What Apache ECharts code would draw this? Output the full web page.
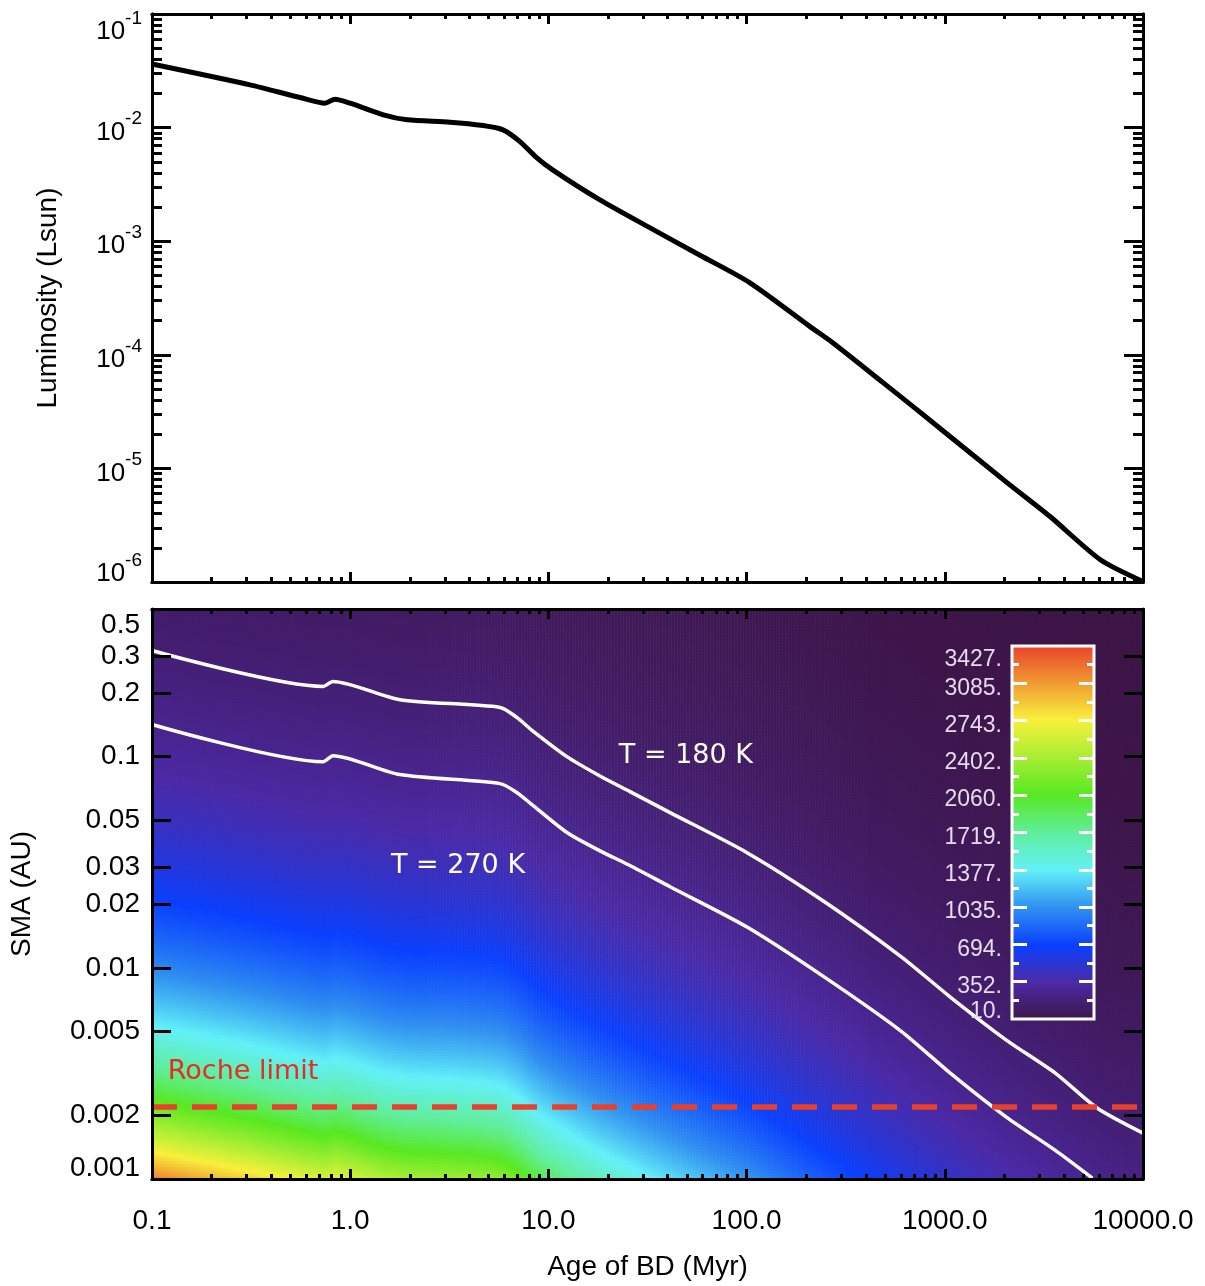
<!DOCTYPE html>
<html>
<head>
<meta charset="utf-8">
<script src="https://cdn.jsdelivr.net/npm/echarts@6/dist/echarts.min.js"></script>
<style>
html, body { margin: 0; padding: 0; background: #fff; }
#chart { width: 1205px; height: 1286px; }
</style>
</head>
<body>
<div id="chart"></div>
<script>
// luminosity track (Myr, Lsun)
const ageMyr = [0.1, 0.312, 0.558, 0.746, 0.838, 1.0, 1.47, 1.94, 3.19, 4.68, 5.9, 7.19, 8.6, 10.5, 18.2, 32.6, 58.2, 104, 209, 273, 488, 692, 1062, 2060, 3396, 6070, 10000]
const lumLsun = [0.0363, 0.0238, 0.0184, 0.0164, 0.0178, 0.0164, 0.01294, 0.0117, 0.01117, 0.01042, 0.00955, 0.00753, 0.00556, 0.00425, 0.00231, 0.00131, 7.52e-4, 4.3e-4, 1.77e-4, 1.27e-4, 5.69e-5, 3.5e-5, 1.91e-5, 7.5e-6, 3.77e-6, 1.58e-6, 1.01e-6]

// white contours (Myr, AU)
const age180 = [0.1, 0.73, 0.819, 1.78, 5.7, 6.95, 8.2, 12.4, 18.2, 25.8, 41.1, 100.5, 246, 601, 1062, 2036, 3597, 5861, 10000]
const sma180 = [0.318, 0.215, 0.227, 0.186, 0.171, 0.153, 0.134, 0.100, 0.0810, 0.0683, 0.0543, 0.0351, 0.0206, 0.0113, 0.00729, 0.00456, 0.00318, 0.00217, 0.00165]
const age270 = [0.1, 0.73, 0.819, 1.78, 5.7, 6.95, 8.2, 12.4, 18.2, 25.8, 41.1, 100.5, 246, 601, 1062, 2036, 3597, 5550]
const sma270 = [0.142, 0.0946, 0.101, 0.0822, 0.0745, 0.0675, 0.0596, 0.0437, 0.0358, 0.0305, 0.0242, 0.0156, 0.00906, 0.00502, 0.00318, 0.00197, 0.00137, 0.00101]

const rocheSma = 0.0022

// text notes inside the bottom panel
const noteText = ['T = 180 K', 'T = 270 K', 'Roche limit']
const noteAge = [49.4, 3.5, 0.288]
const noteSma = [0.101, 0.0304, 0.00321]
const noteColor = ['#ffffff', '#ffffff', '#ee2a1e']

// axis ticks
const ageLabels = ['0.1', '1.0', '10.0', '100.0', '1000.0', '10000.0']
const lumExp = [-1, -2, -3, -4, -5, -6]
const smaTicks = [0.001, 0.002, 0.005, 0.01, 0.02, 0.03, 0.05, 0.1, 0.2, 0.3, 0.5]
const smaLabels = ['0.001', '0.002', '0.005', '0.01', '0.02', '0.03', '0.05', '0.1', '0.2', '0.3', '0.5']

// colour bar (K)
const cbTicks = [10, 352, 694, 1035, 1377, 1719, 2060, 2402, 2743, 3085, 3427]
const cbLabels = ['10.', '352.', '694.', '1035.', '1377.', '1719.', '2060.', '2402.', '2743.', '3085.', '3427.']
const tempColors = ['#3d1546', '#4c2aa6', '#0a40ff', '#3090f0', '#62f0f8', '#60ee9c', '#58e822', '#a8ee34', '#f8f03c', '#f09830', '#e8402c']

// T = K * L^0.25 / sqrt(a), K fixed so the field meets the 180 K contour
const tempConst = 231

const LG = Math.log10
const font = 'Liberation Sans'
const smaMinLog = LG(smaTicks[0])
const smaMaxLog = LG(smaTicks[smaTicks.length - 1])

const ageMajor = [0, 1, 2, 3]
const ageMinor = []
for (let d = -1; d < 4; d++) for (let k = 2; k < 10; k++) ageMinor.push(d + LG(k))
const lumMajor = [-5, -4, -3, -2]
const lumMinor = []
for (let d = -6; d < -1; d++) for (let k = 2; k < 10; k++) lumMinor.push(d + LG(k))
const smaMajor = smaTicks.slice(1, -1).map(LG)
const cbMajor = cbTicks.slice(1, -1)
const cbMinor = cbTicks.slice(1).map((v, i) => (v + cbTicks[i]) / 2)

function lumAt(logAge) {
  const la = ageMyr.map(LG)
  const ll = lumLsun.map(LG)
  for (let i = 1; i < la.length; i++) {
    if (logAge <= la[i]) {
      const f = (logAge - la[i - 1]) / (la[i] - la[i - 1])
      return ll[i - 1] + f * (ll[i] - ll[i - 1])
    }
  }
  return ll[ll.length - 1]
}

// heatmap cells
const nCol = 330, nRow = 190
const colIdx = [], rowIdx = [], heatData = []
for (let i = 0; i < nCol; i++) colIdx.push(i)
for (let j = 0; j < nRow; j++) rowIdx.push(j)
for (let i = 0; i < nCol; i++) {
  const logAge = -1 + (i + 0.5) * 5 / nCol
  const logL = lumAt(logAge)
  for (let j = 0; j < nRow; j++) {
    const logA = smaMinLog + (j + 0.5) * (smaMaxLog - smaMinLog) / nRow
    heatData.push([i, j, tempConst * Math.pow(10, logL / 4 - logA / 2)])
  }
}

function edgeAxis(grid, pos, min, max, ticks, len, color, extra) {
  return Object.assign({
    gridIndex: grid, type: 'value', position: pos, min: min, max: max, z: 10,
    axisLine: { show: true, onZero: false, lineStyle: { color: '#000', width: 3 } },
    axisTick: { show: true, inside: true, length: len, customValues: ticks, lineStyle: { color: color, width: 3 } },
    axisLabel: { show: false },
    splitLine: { show: false }
  }, extra || {})
}

const nameStyle = { fontSize: 28, fontFamily: font, color: '#000' }
const nearest = (v, arr) => {
  let best = 0
  arr.forEach((a, i) => { if (Math.abs(a - v) < Math.abs(arr[best] - v)) best = i })
  return best
}

const xAxes = [
  edgeAxis(0, 'bottom', -1, 4, ageMajor, 10, '#000'),
  edgeAxis(0, 'bottom', -1, 4, ageMinor, 5, '#000'),
  edgeAxis(0, 'top', -1, 4, ageMajor, 10, '#000'),
  edgeAxis(0, 'top', -1, 4, ageMinor, 5, '#000'),
  edgeAxis(1, 'bottom', -1, 4, ageMajor, 10, '#000', {
    axisLabel: {
      show: true, customValues: [-1, 0, 1, 2, 3, 4], margin: 28,
      fontSize: 28, fontFamily: font, color: '#000',
      formatter: v => ageLabels[Math.round(v) + 1]
    },
    name: 'Age of BD (Myr)', nameLocation: 'middle', nameGap: 74, nameTextStyle: nameStyle
  }),
  edgeAxis(1, 'bottom', -1, 4, ageMinor, 5, '#000'),
  edgeAxis(1, 'top', -1, 4, ageMajor, 10, '#000'),
  edgeAxis(1, 'top', -1, 4, ageMinor, 5, '#000'),
  { gridIndex: 2, type: 'category', data: colIdx, show: false },
  { gridIndex: 3, type: 'value', min: 0, max: 1, show: false }
]

const lumLabelPos = lumExp.map((e, i) => i === 0 ? e - 0.114 : i === lumExp.length - 1 ? e + 0.114 : e)
const smaLabelPos = smaTicks.map((s, i) => i === 0 ? -2.948 : i === smaTicks.length - 1 ? -0.379 : LG(s))
const smaLogs = smaTicks.map(LG)
const cbLabelPos = cbTicks.map((t, i) => i === 0 ? t + 64 : i === cbTicks.length - 1 ? t - 128 : t - 45)

const yAxes = [
  edgeAxis(0, 'left', -6, -1, lumMajor, 19, '#000', {
    axisLabel: {
      show: true, customValues: lumLabelPos, margin: 10,
      formatter: v => '{b|10}{s|' + Math.round(v) + '}',
      rich: {
        b: { fontSize: 26, fontFamily: font, color: '#000', padding: [10, 0, 0, 0], verticalAlign: 'bottom' },
        s: { fontSize: 19, fontFamily: font, color: '#000', verticalAlign: 'top' }
      }
    },
    name: 'Luminosity (Lsun)', nameLocation: 'middle', nameGap: 90, nameTextStyle: nameStyle
  }),
  edgeAxis(0, 'left', -6, -1, lumMinor, 10, '#000'),
  edgeAxis(0, 'right', -6, -1, lumMajor, 19, '#000'),
  edgeAxis(0, 'right', -6, -1, lumMinor, 10, '#000'),
  edgeAxis(1, 'left', smaMinLog, smaMaxLog, smaMajor, 19, '#000', {
    axisLabel: {
      show: true, customValues: smaLabelPos, margin: 12,
      fontSize: 28, fontFamily: font, color: '#000',
      formatter: v => smaLabels[nearest(v, smaLogs)]
    },
    name: 'SMA (AU)', nameLocation: 'middle', nameGap: 116, nameTextStyle: nameStyle
  }),
  edgeAxis(1, 'right', smaMinLog, smaMaxLog, smaMajor, 19, '#000'),
  { gridIndex: 2, type: 'category', data: rowIdx, show: false },
  edgeAxis(3, 'left', cbTicks[0], cbTicks[cbTicks.length - 1], cbMajor, 15, '#fff', {
    axisLine: { show: false },
    axisLabel: {
      show: true, customValues: cbLabelPos, margin: 10,
      fontSize: 23, fontFamily: font, color: '#e4dce8',
      formatter: v => cbLabels[nearest(v, cbTicks)]
    }
  }),
  edgeAxis(3, 'left', cbTicks[0], cbTicks[cbTicks.length - 1], cbMinor, 7, '#fff', { axisLine: { show: false } }),
  edgeAxis(3, 'right', cbTicks[0], cbTicks[cbTicks.length - 1], cbMajor, 15, '#fff', { axisLine: { show: false } }),
  edgeAxis(3, 'right', cbTicks[0], cbTicks[cbTicks.length - 1], cbMinor, 7, '#fff', { axisLine: { show: false } })
]

const chart = echarts.init(document.getElementById('chart'))
chart.setOption({
  animation: false,
  backgroundColor: '#fff',
  grid: [
    { left: 152, top: 14, width: 991, height: 568 },
    { left: 152, top: 609, width: 991, height: 570 },
    { left: 152, top: 609, width: 991, height: 570 },
    {
      left: 1012, top: 646, width: 82, height: 373, show: true, z: 6,
      borderColor: '#fff', borderWidth: 3,
      backgroundColor: {
        type: 'linear', x: 0, y: 1, x2: 0, y2: 0,
        colorStops: tempColors.map((c, i) => ({ offset: i / (tempColors.length - 1), color: c }))
      }
    }
  ],
  xAxis: xAxes,
  yAxis: yAxes,
  visualMap: {
    type: 'continuous', show: false, seriesIndex: 1, dimension: 2,
    min: cbTicks[0], max: cbTicks[cbTicks.length - 1],
    inRange: { color: tempColors }
  },
  series: [
    {
      type: 'line', xAxisIndex: 0, yAxisIndex: 0, symbol: 'none', smooth: 0.25,
      lineStyle: { color: '#000', width: 5 },
      data: ageMyr.map((t, i) => [LG(t), LG(lumLsun[i])])
    },
    {
      type: 'heatmap', xAxisIndex: 8, yAxisIndex: 6, silent: true, progressive: 0,
      emphasis: { disabled: true },
      data: heatData
    },
    {
      type: 'line', xAxisIndex: 4, yAxisIndex: 4, symbol: 'none', smooth: 0.25, z: 4,
      lineStyle: { color: '#fff', width: 3.5 },
      data: age180.map((t, i) => [LG(t), LG(sma180[i])]),
      markLine: {
        silent: true, symbol: 'none', label: { show: false },
        lineStyle: { color: '#e8402c', width: 5.5, type: [25, 15] },
        data: [{ yAxis: LG(rocheSma) }]
      }
    },
    {
      type: 'line', xAxisIndex: 4, yAxisIndex: 4, symbol: 'none', smooth: 0.25, z: 4,
      lineStyle: { color: '#fff', width: 3.5 },
      data: age270.map((t, i) => [LG(t), LG(sma270[i])])
    },
    {
      type: 'scatter', xAxisIndex: 4, yAxisIndex: 4, symbolSize: 2, z: 5, silent: true,
      itemStyle: { color: 'rgba(0,0,0,0)', opacity: 1 },
      label: {
        show: true, position: 'inside', formatter: '{b}', fontSize: 27, fontFamily: 'DejaVu Sans',
        opacity: 1, textBorderWidth: 0
      },
      data: noteText.map((n, i) => ({
        name: n, value: [LG(noteAge[i]), LG(noteSma[i])],
        label: { color: noteColor[i] }
      }))
    }
  ]
})
</script>
</body>
</html>
